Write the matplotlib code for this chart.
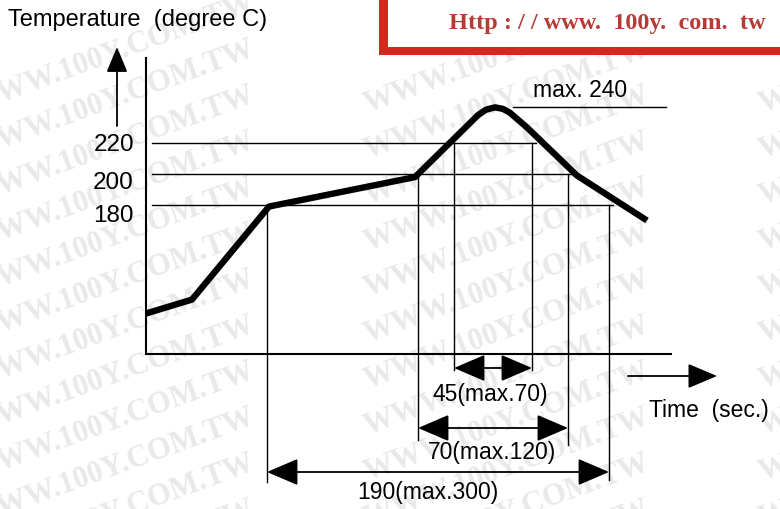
import matplotlib
matplotlib.use("Agg")
import matplotlib.pyplot as plt
from matplotlib.patches import Rectangle

# ---------------- data ----------------
# schematic time units (arbitrary) and temperatures (degree C)
profile_time = [0, 46, 123, 269, 332, 340, 349, 357, 364, 381, 431, 501]
profile_temp = [110, 119, 179, 198, 238, 241.5, 243, 242, 239.5, 230, 199, 170]

levels = [180, 200, 220]
level_labels = ["180", "200", "220"]
max_temp = 240

# crossing times of the levels (rise, fall)
t180 = (121, 463)
t200 = (272, 422)
t220 = (308, 386)

span_labels = ["45(max.70)", "70(max.120)", "190(max.300)"]

# ---------------- figure ----------------
W, H = 780, 509
fig = plt.figure(figsize=(W / 100, H / 100), dpi=100)
ax = fig.add_axes([0, 0, 1, 1])
ax.axis("off")

# pixel -> data mapping helpers (layout only)
X0 = 146.0
def tx(px):
    return px - X0
def ty(py):
    return 220 - (py - 143) / 1.55

ax.set_xlim(tx(0), tx(W))
ax.set_ylim(ty(H), ty(0))

FONT = "Liberation Sans"

# watermark: stacked diagonal columns
for col_x in (-25, 370, 765):
    for yy in range(120, 700, 46):
        ax.text(tx(col_x), ty(yy), "WWW.100Y.COM.TW", fontsize=22,
                family="Liberation Serif", weight="bold", color="#e9e9e9",
                rotation=20, ha="left", va="bottom", zorder=0,
                rotation_mode="anchor")

# red url box
fig.patches.append(Rectangle((379 / W, 1 - 55 / H), (W - 379) / W, 55 / H,
                             transform=fig.transFigure, facecolor="#d9261c",
                             edgecolor="none", zorder=1))
fig.patches.append(Rectangle((388 / W, 1 - 47 / H), (W - 388) / W, 47 / H + 0.01,
                             transform=fig.transFigure, facecolor="white",
                             edgecolor="none", zorder=1))
fig.text(607 / W, 1 - 23 / H, "Http : / / www.  100y.  com.  tw",
         fontsize=17.5, family="Liberation Serif", weight="bold",
         color="#b83a36", ha="center", va="center", zorder=2)

# axes lines
ax.plot([tx(146), tx(146)], [ty(58), ty(354)], color="black", lw=1.5, zorder=3)
ax.plot([tx(146), tx(671)], [ty(354), ty(354)], color="black", lw=1.5, zorder=3)

# y arrow
ax.annotate("", xy=(tx(117), ty(47)), xytext=(tx(117), ty(126)),
            arrowprops=dict(arrowstyle="-|>,head_length=1.2,head_width=0.5",
                            color="black", lw=1.3, shrinkA=0, shrinkB=0,
                            mutation_scale=13))
# time arrow
ax.annotate("", xy=(tx(717), ty(376)), xytext=(tx(628), ty(376)),
            arrowprops=dict(arrowstyle="-|>,head_length=1.3,head_width=0.55",
                            color="black", lw=1.3, shrinkA=0, shrinkB=0,
                            mutation_scale=14))

# level lines
level_ends = {180: t180[1], 200: t200[1], 220: t220[1]}
for lv in levels:
    ax.plot([tx(152), level_ends[lv] + 4], [lv, lv], color="black", lw=1.0, zorder=3)
label_y = {180: 216, 200: 183, 220: 145}
for lv, lab in zip(levels, level_labels):
    ax.text(tx(134), ty(label_y[lv]), lab, fontsize=17.5, family=FONT,
            ha="right", va="center", zorder=4)

# max line
ax.plot([tx(513), tx(666)], [ty(107), ty(107)], color="black", lw=1.0, zorder=3)
ax.text(tx(580), ty(91), "max. " + str(max_temp), fontsize=16.5, family=FONT,
        ha="center", va="center", zorder=4)

# vertical drop lines
ax.plot([t180[0], t180[0]], [180, ty(482)], color="black", lw=1.0, zorder=3)
ax.plot([t180[1], t180[1]], [180, ty(480)], color="black", lw=1.0, zorder=3)
ax.plot([t200[0], t200[0]], [198, ty(440)], color="black", lw=1.0, zorder=3)
ax.plot([t200[1], t200[1]], [200, ty(445)], color="black", lw=1.0, zorder=3)
ax.plot([t220[0], t220[0]], [220, ty(370)], color="black", lw=1.0, zorder=3)
ax.plot([t220[1], t220[1]], [220, ty(370)], color="black", lw=1.0, zorder=3)

# profile
ax.plot(profile_time, profile_temp, color="black", lw=4.6,
        solid_joinstyle="round", solid_capstyle="butt", zorder=5)

# span arrows
spans = [(t220, 368, 394), (t200, 428, 453), (t180, 472, 493)]
text_x = [490, 492, 428]
for ((a, b), ay, ly), lab, lx in zip(spans, span_labels, text_x):
    ax.annotate("", xy=(b, ty(ay)), xytext=(a, ty(ay)),
                arrowprops=dict(arrowstyle="<|-|>,head_length=1.4,head_width=0.6",
                                color="black", lw=1.3, shrinkA=0, shrinkB=0,
                                mutation_scale=14), zorder=4)
    ax.text(tx(lx), ty(ly), lab, fontsize=16.5, family=FONT,
            ha="center", va="center", zorder=4)

# axis titles
ax.text(tx(8), ty(20), "Temperature  (degree C)", fontsize=17, family=FONT,
        ha="left", va="center", zorder=4)
ax.text(tx(649), ty(411), "Time  (sec.)", fontsize=16.5, family=FONT,
        ha="left", va="center", zorder=4)

fig.savefig("out.png", dpi=100)
